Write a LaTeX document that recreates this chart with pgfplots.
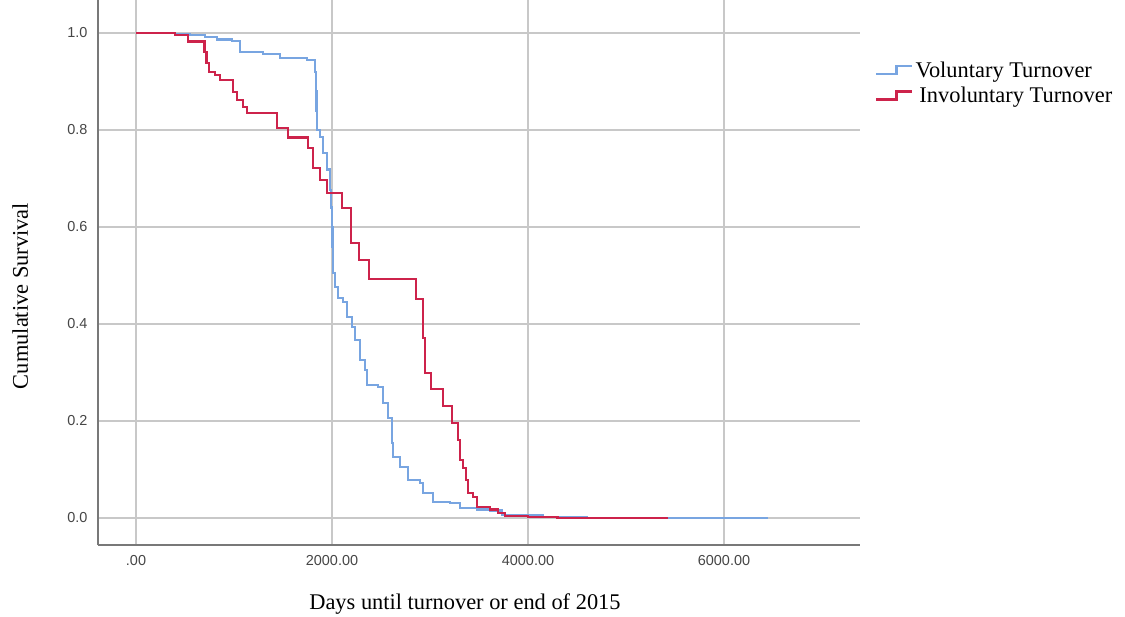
\documentclass[border=0pt]{standalone}
\usepackage{fontspec}
\setmainfont{Liberation Serif}
\newfontfamily\arialfont{Liberation Sans}
\usepackage{pgfplots}
\pgfplotsset{compat=1.18}
\definecolor{volblue}{RGB}{120,165,225}
\definecolor{invred}{RGB}{205,35,75}
\definecolor{gridgray}{RGB}{200,200,200}
\definecolor{axisgray}{RGB}{120,120,120}
\definecolor{tickgray}{RGB}{70,70,70}

\pgfplotstableread{
x y
0 1.000
398 0.998
551 0.996
704 0.992
827 0.987
980 0.983
1061 0.961
1296 0.957
1469 0.948
1745 0.944
1827 0.920
1835 0.880
1840 0.840
1845 0.800
1878 0.786
1908 0.753
1949 0.718
1980 0.676
1990 0.640
2000 0.600
2005 0.560
2010 0.505
2031 0.476
2061 0.454
2112 0.445
2153 0.414
2204 0.394
2235 0.367
2286 0.326
2337 0.305
2357 0.274
2469 0.270
2520 0.237
2571 0.206
2612 0.155
2622 0.126
2694 0.105
2776 0.078
2898 0.072
2929 0.052
3031 0.033
3204 0.031
3306 0.021
3480 0.018
3612 0.015
3735 0.006
4153 0.002
4600 0.000
6450 0.000
}\voluntary

\pgfplotstableread{
x y
0 1.000
398 0.996
531 0.982
700 0.961
720 0.938
745 0.920
806 0.913
857 0.903
990 0.878
1031 0.862
1092 0.847
1133 0.835
1439 0.804
1551 0.784
1755 0.763
1806 0.722
1878 0.697
1949 0.670
2102 0.639
2194 0.567
2276 0.532
2378 0.493
2857 0.452
2929 0.371
2950 0.299
3010 0.266
3133 0.231
3224 0.196
3286 0.161
3306 0.120
3337 0.103
3367 0.078
3388 0.052
3439 0.043
3480 0.023
3612 0.018
3694 0.010
3765 0.004
4000 0.002
4300 0.000
5430 0.000
}\involuntary

\begin{document}
\begin{tikzpicture}
\begin{axis}[
  name=ax, at={(0,0)}, anchor=south west,
  scale only axis, width=762bp, height=545bp,
  xmin=-388, xmax=7388, ymin=-0.0557, ymax=1.068,
  axis lines=left,
  axis line style={-, axisgray, line width=1.5bp},
  major tick length=0pt,
  grid=major,
  grid style={gridgray, line width=1.4bp},
  xtick={0,2000,4000,6000},
  xticklabels={.00,2000.00,4000.00,6000.00},
  ytick={0,0.2,0.4,0.6,0.8,1.0},
  yticklabels={0.0,0.2,0.4,0.6,0.8,1.0},
  /pgf/number format/assume math mode=true,
  ticklabel style={font=\arialfont\fontsize{14.5}{16}\selectfont, text=tickgray},
  xticklabel style={yshift=-7bp},
  yticklabel style={xshift=-7bp},
  xlabel={Days until turnover or end of 2015},
  xlabel style={at={(axis description cs:0.4816,-0.119)}, anchor=base, font=\fontsize{22.5}{26}\selectfont},
  ylabel={Cumulative Survival},
  ylabel style={at={(axis description cs:-0.102,0.457)}, anchor=center, font=\fontsize{22.5}{26}\selectfont},
  legend style={at={(axis description cs:1.0197,0.891)}, anchor=north west, draw=none, fill=none,
    font=\fontsize{22.5}{25}\selectfont, row sep=4.5bp, inner sep=0pt},
  legend cell align=left,
  legend image code/.code={\draw[#1] (0bp,-4bp) -- (20bp,-4bp) -- (20bp,4bp) -- (36bp,4bp);},
]
\addplot[const plot, volblue, line width=2.5bp] table[x=x,y=y] {\voluntary};
\addlegendentry{Voluntary Turnover}
\addplot[const plot, invred, line width=2.5bp] table[x=x,y=y] {\involuntary};
\addlegendentry{\,Involuntary Turnover}
\end{axis}
\pgfresetboundingbox
\path (ax.south west) ++(-98bp,-72bp) rectangle ++(1125bp,617bp);
\end{tikzpicture}
\end{document}
